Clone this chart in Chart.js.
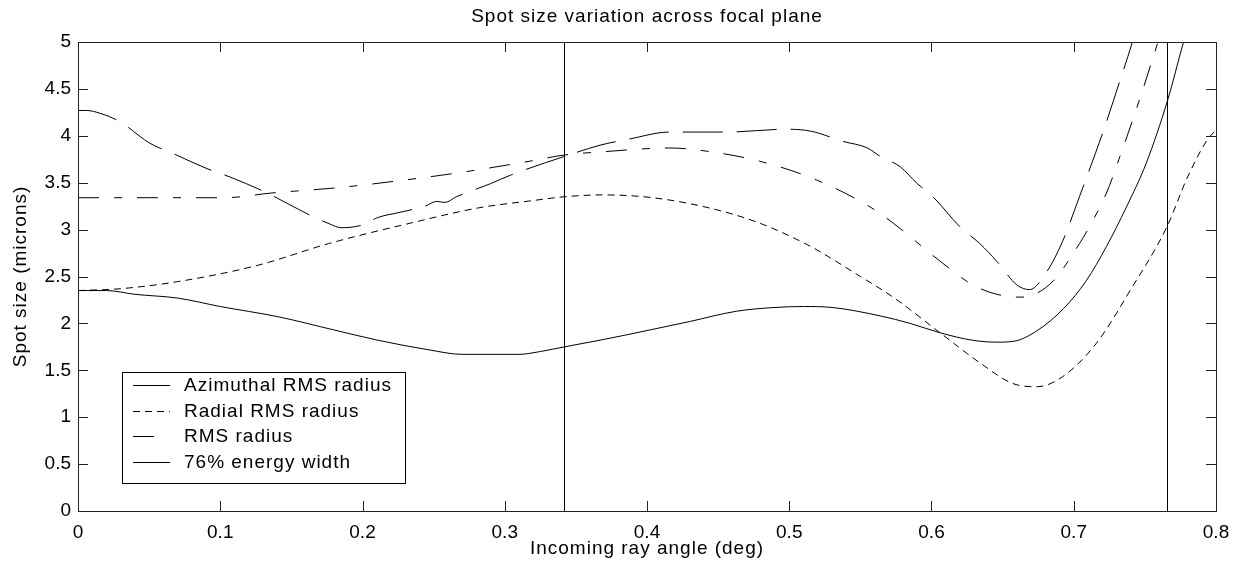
<!DOCTYPE html>
<html>
<head>
<meta charset="utf-8">
<script src="https://cdn.jsdelivr.net/npm/chart.js"></script>
<style>
  body { margin: 0; background: #fff; }
  #wrap { width: 1235px; height: 571px; }
</style>
</head>
<body>
<div id="wrap"><canvas id="spot" width="1235" height="571"></canvas></div>
<script>
// values (angle in deg, spot size in microns)
const azimuthalX = [0, 0.02, 0.04, 0.07, 0.1, 0.141, 0.18, 0.211, 0.246, 0.27, 0.29, 0.31, 0.325, 0.342, 0.37, 0.402, 0.43, 0.463, 0.49, 0.51, 0.53, 0.564, 0.585, 0.606, 0.629, 0.646, 0.658, 0.674, 0.693, 0.709, 0.723, 0.737, 0.751, 0.766, 0.777, 0.785];
const azimuthalY = [2.35, 2.35, 2.31, 2.27, 2.18, 2.07, 1.93, 1.82, 1.72, 1.67, 1.67, 1.67, 1.70, 1.75, 1.83, 1.93, 2.02, 2.13, 2.17, 2.18, 2.17, 2.08, 2.00, 1.90, 1.82, 1.80, 1.81, 1.92, 2.16, 2.46, 2.82, 3.24, 3.71, 4.38, 4.99, 5.4];

const radialX = [0, 0.03, 0.07, 0.1265, 0.176, 0.234, 0.281, 0.32, 0.342, 0.369, 0.404, 0.444, 0.479, 0.515, 0.55, 0.573, 0.606, 0.634, 0.657, 0.674, 0.692, 0.716, 0.74, 0.7655, 0.78, 0.794, 0.8];
const radialY = [2.35, 2.37, 2.445, 2.62, 2.85, 3.07, 3.23, 3.31, 3.35, 3.37, 3.34, 3.23, 3.07, 2.82, 2.50, 2.28, 1.90, 1.58, 1.36, 1.325, 1.43, 1.79, 2.36, 3.03, 3.56, 3.96, 4.06];

const rmsX = [0, 0.05, 0.103, 0.136, 0.185, 0.225, 0.265, 0.314, 0.342, 0.369, 0.416, 0.44, 0.479, 0.519, 0.557, 0.573, 0.608, 0.629, 0.646, 0.662, 0.671, 0.686, 0.704, 0.711, 0.723, 0.7325, 0.747, 0.759, 0.77];
const rmsY = [3.34, 3.34, 3.34, 3.39, 3.45, 3.52, 3.60, 3.72, 3.795, 3.83, 3.87, 3.84, 3.73, 3.53, 3.24, 3.07, 2.64, 2.41, 2.31, 2.28, 2.30, 2.46, 2.85, 3.03, 3.39, 3.78, 4.42, 4.99, 5.5];

const energyX = [0, 0.006, 0.0155, 0.0295, 0.0506, 0.067, 0.0907, 0.107, 0.133, 0.147, 0.165, 0.177, 0.185, 0.2, 0.211, 0.225, 0.244, 0.252, 0.258, 0.266, 0.29, 0.304, 0.328, 0.342, 0.367, 0.386, 0.416, 0.456, 0.498, 0.515, 0.538, 0.555, 0.564, 0.578, 0.59, 0.601, 0.62, 0.634, 0.646, 0.66, 0.669, 0.681, 0.692, 0.704, 0.721, 0.7325, 0.741, 0.75];
const energyY = [4.27, 4.27, 4.24, 4.15, 3.92, 3.81, 3.65, 3.56, 3.39, 3.28, 3.14, 3.06, 3.02, 3.05, 3.13, 3.18, 3.25, 3.30, 3.29, 3.35, 3.49, 3.58, 3.71, 3.78, 3.90, 3.96, 4.04, 4.04, 4.07, 4.05, 3.94, 3.87, 3.78, 3.67, 3.49, 3.35, 3.03, 2.85, 2.66, 2.41, 2.36, 2.55, 2.87, 3.35, 4.06, 4.59, 4.99, 5.5];

const seriesNames = ["Azimuthal RMS radius", "Radial RMS radius", "RMS radius", "76% energy width"];
const markerAngles = [0.342, 0.7655];
const xTicksStep = 0.1;
const yTicksStep = 0.5;

const FONT = 'Arial, "Liberation Sans", Helvetica, sans-serif';

const pts = (xs, ys) => xs.map((x, i) => ({ x: x, y: ys[i] }));

const lineStyle = (dash) => ({
  borderColor: "#000",
  borderWidth: 1,
  borderDash: dash,
  pointRadius: 0,
  fill: false,
  cubicInterpolationMode: "monotone",
  clip: 0,
});

// box, inward ticks, marker lines, title and legend drawn the matlab way
const matlabFrame = {
  id: "matlabFrame",
  afterDraw(chart) {
    const { ctx, chartArea: a, scales } = chart;
    const xs = scales.x, ys = scales.y;
    ctx.save();
    ctx.strokeStyle = "#000";
    ctx.lineWidth = 1;

    markerAngles.forEach((v) => {
      const px = Math.round(xs.getPixelForValue(v)) + 0.5;
      ctx.beginPath();
      ctx.moveTo(px, a.top);
      ctx.lineTo(px, a.bottom);
      ctx.stroke();
    });

    ctx.strokeStyle = "#222";
    ctx.strokeRect(a.left + 0.5, a.top + 0.5, a.right - a.left, a.bottom - a.top);
    const tl = 10;
    ctx.beginPath();
    xs.ticks.forEach((t) => {
      const px = Math.round(xs.getPixelForValue(t.value)) + 0.5;
      ctx.moveTo(px, a.bottom); ctx.lineTo(px, a.bottom - tl);
      ctx.moveTo(px, a.top); ctx.lineTo(px, a.top + tl);
    });
    ys.ticks.forEach((t) => {
      const py = Math.round(ys.getPixelForValue(t.value)) + 0.5;
      ctx.moveTo(a.left, py); ctx.lineTo(a.left + tl, py);
      ctx.moveTo(a.right, py); ctx.lineTo(a.right - tl, py);
    });
    ctx.stroke();

    ctx.fillStyle = "#000";
    ctx.font = "19px " + FONT;
    ctx.letterSpacing = "1px";
    ctx.textAlign = "center";
    ctx.textBaseline = "middle";
    const cx = (a.left + a.right) / 2;
    ctx.fillText("Spot size variation across focal plane", cx, 17);
    ctx.fillText("Incoming ray angle (deg)", cx, 549);
    ctx.save();
    ctx.translate(21, (a.top + a.bottom) / 2);
    ctx.rotate(-Math.PI / 2);
    ctx.fillText("Spot size (microns)", 0, 0);
    ctx.restore();

    // legend
    const lx = 122, ly = 372, lw = 283, lh = 111;
    ctx.fillStyle = "#fff";
    ctx.fillRect(lx, ly, lw, lh);
    ctx.strokeStyle = "#000";
    ctx.strokeRect(lx + 0.5, ly + 0.5, lw, lh);
    ctx.textAlign = "left";
    chart.data.datasets.forEach((ds, i) => {
      const ry = Math.round(ly + 13 + i * 25.7) + 0.5;
      ctx.beginPath();
      ctx.setLineDash(ds.borderDash || []);
      ctx.moveTo(133, ry);
      ctx.lineTo(i === 2 ? 158 : 170, ry);
      ctx.stroke();
      ctx.setLineDash([]);
      ctx.fillStyle = "#000";
      ctx.fillText(ds.label, 184, ry);
    });
    ctx.letterSpacing = "0px";
    ctx.restore();
  },
};

const plainNumber = (v) => String(+Number(v).toFixed(2));

new Chart(document.getElementById("spot"), {
  type: "line",
  data: {
    datasets: [
      { label: seriesNames[0], data: pts(azimuthalX, azimuthalY), ...lineStyle([]) },
      { label: seriesNames[1], data: pts(radialX, radialY), ...lineStyle([7, 5]) },
      { label: seriesNames[2], data: pts(rmsX, rmsY), ...lineStyle([21, 15, 8, 15]) },
      { label: seriesNames[3], data: pts(energyX, energyY), ...lineStyle([40, 14]) },
    ],
  },
  options: {
    responsive: false,
    animation: false,
    layout: { padding: { left: 0, top: 42, right: 19, bottom: 0 } },
    plugins: { legend: { display: false }, title: { display: false }, tooltip: { enabled: false } },
    scales: {
      x: {
        type: "linear",
        min: 0,
        max: 0.8,
        grid: { display: false, drawTicks: false },
        border: { display: false },
        ticks: { stepSize: xTicksStep, color: "#000", padding: 10, maxRotation: 0, callback: plainNumber, font: { family: FONT, size: 19 } },
        afterFit: (s) => { s.height = 60; s.paddingLeft = 0; s.paddingRight = 0; },
      },
      y: {
        min: 0,
        max: 5,
        grid: { display: false, drawTicks: false },
        border: { display: false },
        ticks: { stepSize: yTicksStep, color: "#000", padding: 7, callback: plainNumber, font: { family: FONT, size: 19 } },
        afterFit: (s) => { s.width = 78; s.paddingTop = 0; s.paddingBottom = 0; },
      },
    },
  },
  plugins: [matlabFrame],
});
</script>
</body>
</html>
